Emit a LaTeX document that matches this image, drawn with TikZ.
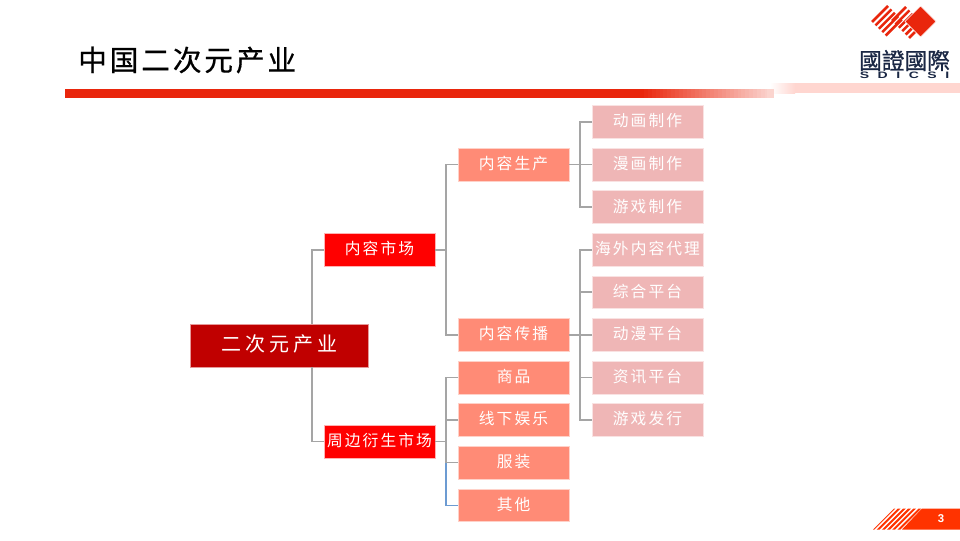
\documentclass[tikz,border=0pt]{standalone}
\usepackage{fontspec}
\setmainfont{Liberation Sans}
\newfontfamily\cjkspaced[LetterSpace=13]{Noto Sans CJK SC}
\newfontfamily\cjkroot[LetterSpace=20]{Noto Sans CJK SC}
\newfontfamily\cjktitle[LetterSpace=10,FakeBold=0.6]{Noto Sans CJK SC}
\newfontfamily\cjklogo[FakeBold=0.9]{Noto Sans CJK TC}
\definecolor{barred}{HTML}{E9260C}
\definecolor{pinkstrip}{HTML}{FFD6D0}
\definecolor{rootc}{HTML}{C00000}
\definecolor{lone}{HTML}{FF0000}
\definecolor{ltwo}{HTML}{FF8B76}
\definecolor{lthree}{HTML}{EFB6B6}
\definecolor{conn}{HTML}{A5A5A5}
\definecolor{connblue}{HTML}{6C9BD2}
\definecolor{logotext}{HTML}{1A2744}
\definecolor{footred}{HTML}{FF3300}
\newcommand{\wl}[1]{\scalebox{1.5}[1]{#1}}
\tikzset{
 x=0.75pt,y=-0.75pt,
 boxb/.style={rectangle,inner sep=0pt,outer sep=0pt,anchor=north west,text=white,text height=10.4pt,text depth=2.9pt,font=\cjkspaced\fontsize{11.8pt}{14pt}\selectfont},
 rootbox/.style={boxb,fill=rootc,draw=rootc!40!white,line width=0.4pt,minimum width=133.5pt,minimum height=32.5pt,text height=13.2pt,text depth=3.8pt,font=\cjkroot\fontsize{15pt}{18pt}\selectfont},
 oneb/.style={boxb,fill=lone,draw=lone!30!white,line width=0.4pt,minimum width=83.25pt,minimum height=24.6pt},
 twob/.style={boxb,fill=ltwo,draw=ltwo!40!white,line width=0.4pt,minimum width=83.25pt,minimum height=24.6pt},
 threeb/.style={boxb,fill=lthree,draw=lthree!40!white,line width=0.4pt,minimum width=83.25pt,minimum height=24.6pt},
 link/.style={draw=conn,line width=1.35pt},
 linkb/.style={draw=connblue,line width=1pt},
}
\begin{document}
\begin{tikzpicture}
\useasboundingbox (0,0) rectangle (960,540);
\fill[white] (0,0) rectangle (960,540);
% header bar
\fill[barred] (65,89) rectangle (641,98);
\foreach \i in {0,...,33}{
 \pgfmathsetmacro{\p}{100-80*\i/33}
 \fill[barred!\p!white] ({640+3.9*\i},89) rectangle ({644.2+3.9*\i},98);
}
\fill[pinkstrip] (795,83) rectangle (960,93);
\shade[left color=white,right color=pinkstrip] (770,83) rectangle (795,93);
\fill[barred!20!white] (767,89) rectangle (774,98);
% title
\node[anchor=west,inner sep=0pt,font=\cjktitle\fontsize{21.5pt}{24pt}\selectfont] (title) at (78,60) {中国二次元产业};
% logo
\foreach \k in {0,...,4}{
 \draw[barred,line width=1.9pt] ({872+3.4*\k},{22+3.4*\k}) -- ++(16,-16);
}
\foreach \k in {0,...,5}{
 \draw[barred,line width=1.9pt] ({892+3.4*\k},{21+3.4*\k}) -- ++(14,-14);
}
\fill[barred,draw=white,line width=0.5pt] (905,21.5) -- (920.5,6) -- (936,21.5) -- (920.5,37) -- cycle;
\node[font=\cjklogo\fontsize{17pt}{19pt}\selectfont,text=logotext,inner sep=0pt] (logo) at (904.5,60.5) {國證國際};
\node[font=\bfseries\fontsize{7pt}{8pt}\selectfont,text=logotext,inner sep=0pt] (logosub) at (904.5,74.8) {\wl{S}\hspace{6.4pt}\wl{D}\hspace{6.4pt}\wl{I}\hspace{6.4pt}\wl{C}\hspace{6.4pt}\wl{S}\hspace{6.4pt}\wl{I}};
% footer
\fill[footred] (902,529.5) -- (922,508.5) -- (960,508.5) -- (960,529.5) -- cycle;
\begin{scope}
\clip (873,529.5) -- (894,508.5) -- (922,508.5) -- (902,529.5) -- cycle;
\foreach \k in {0,...,9}{
 \draw[footred,line width=1.5pt] ({872+\k*5.2},{530.5}) -- ++(24,-24);
}
\end{scope}
\node[text=white,font=\bfseries\fontsize{8.5pt}{10pt}\selectfont,inner sep=0pt] (pageno) at (941,519) {3};
% nodes
\node[rootbox] (root) at (190,324) {二次元产业};
\node[oneb] (m1) at (324,233.2) {内容市场};
\node[oneb] (m2) at (324,425) {周边衍生市场};
\node[twob] (p1) at (458,148) {内容生产};
\node[twob] (p2) at (458,318.2) {内容传播};
\node[twob] (q1) at (458,361) {商品};
\node[twob] (q2) at (458,403.4) {线下娱乐};
\node[twob] (q3) at (458,446) {服装};
\node[twob] (q4) at (458,488.8) {其他};
\node[threeb] (a1) at (592,105.4) {动画制作};
\node[threeb] (a2) at (592,148) {漫画制作};
\node[threeb] (a3) at (592,190.6) {游戏制作};
\node[threeb] (b1) at (592,233.2) {海外内容代理};
\node[threeb] (b2) at (592,275.8) {综合平台};
\node[threeb] (b3) at (592,318.2) {动漫平台};
\node[threeb] (b4) at (592,361) {资讯平台};
\node[threeb] (b5) at (592,403.4) {游戏发行};
% trunks
\coordinate (t0) at (312,345);
\coordinate (t1) at (446,345);
\coordinate (t2) at (580,345);
% connectors
\draw[link] (root.north -| t0) |- (m1.west);
\draw[link] (root.south -| t0) |- (m2.west);
\draw[link] (m1.east) -- (m1.east -| t1);
\draw[link] (p1.west) -| (m1.east -| t1) |- (p2.west);
\draw[linkb] (q3.west -| t1) |- (q4.west);
\draw[link] (m2.east) -- (m2.east -| t1);
\draw[link] (q1.west) -| (q3.west -| t1) -- (q3.west);
\draw[link] (q2.west) -- (q2.west -| t1);
\draw[link] (p1.east) -- (p1.east -| t2);
\draw[link] (a1.west) -| (a3.west -| t2) -- (a3.west);
\draw[link] (a2.west) -- (a2.west -| t2);
\draw[link] (p2.east) -- (p2.east -| t2);
\draw[link] (b1.west) -| (b5.west -| t2) -- (b5.west);
\draw[link] (b2.west) -- (b2.west -| t2);
\draw[link] (b3.west) -- (b3.west -| t2);
\draw[link] (b4.west) -- (b4.west -| t2);
\end{tikzpicture}
\end{document}
